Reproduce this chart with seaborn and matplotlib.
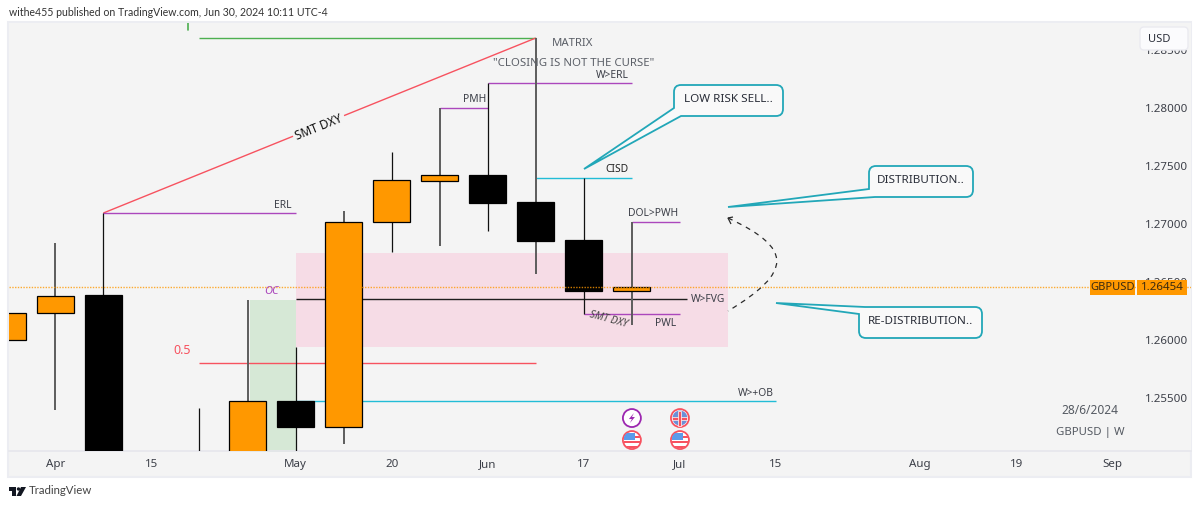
import matplotlib
matplotlib.use('Agg')
import matplotlib.pyplot as plt
import pandas as pd
import seaborn as sns
from matplotlib.patches import Circle, PathPatch, Polygon, Rectangle
from matplotlib.path import Path
from matplotlib.transforms import Affine2D, IdentityTransform

# weekly candles, week 0 is the Apr bar, weeks 2-5 run off the bottom of the view
weeks = [-1, 0, 1, 2, 3, 4, 5, 6, 7, 8, 9, 10, 11, 12]
opens = [1.26000, 1.26233, 1.26388, 1.24450, 1.24950, 1.24900, 1.25473, 1.25249, 1.27018, 1.27372, 1.27424, 1.27191, 1.26863, 1.26423]
closes = [1.26233, 1.26380, 1.24800, 1.23950, 1.24900, 1.25473, 1.25249, 1.27018, 1.27381, 1.27424, 1.27182, 1.26854, 1.26423, 1.26454]
highs = [1.26233, 1.26837, 1.27096, 1.24700, 1.25413, 1.26345, 1.25939, 1.27113, 1.27623, 1.28003, 1.28218, 1.28607, 1.27398, 1.27018]
lows = [1.26000, 1.25395, 1.24500, 1.23500, 1.24800, 1.24600, 1.24800, 1.25102, 1.26759, 1.26811, 1.26941, 1.26570, 1.26224, 1.26129]

# drawn levels
level_names = ['top', 'smt', 'erl', 'pmh', 'werl', 'cisd', 'dol', 'pwl', 'fvg', 'half', 'ob']
level_x0 = [3, 1, 1, 8, 9, 10, 12, 11, 5, 3, 5]
level_x1 = [10, 10, 5, 9, 12, 12, 13, 13, 13.15, 10, 15]
level_p0 = [1.28607, 1.27096, 1.27096, 1.28003, 1.28218, 1.27398, 1.27018, 1.26224, 1.26354, 1.25798, 1.25471]
level_p1 = [1.28607, 1.28607, 1.27096, 1.28003, 1.28218, 1.27398, 1.27018, 1.26224, 1.26354, 1.25798, 1.25471]

last_price = 1.26454
price_ticks = [1.255, 1.26, 1.265, 1.27, 1.275, 1.28, 1.285]
price_labels = ['1.25500', '1.26000', '1.26500', '1.27000', '1.27500', '1.28000', '1.28500']
date_ticks = [0, 2, 5, 7, 9, 11, 13, 15, 18, 20, 22]
date_labels = ['Apr', '15', 'May', '20', 'Jun', '17', 'Jul', '15', 'Aug', '19', 'Sep']
month_labels = ['Apr', 'May', 'Jun', 'Jul', 'Aug', 'Sep']

event_weeks = [12, 12, 13, 13]
event_prices = [1.25326, 1.25136, 1.25326, 1.25136]
event_kinds = ['fed', 'us', 'uk', 'us']

PURPLE = '#ab47bc'
RED = '#f7525f'
CYAN = '#22bcd6'
TEAL = '#22a7b8'
ORANGE = '#ff9800'
BG = '#f4f4f4'
TXT = '#3c3f48'
level_colors = dict(zip(level_names, ['#4caf50', RED, PURPLE, PURPLE, PURPLE, CYAN, PURPLE, PURPLE, '#1e1e1e', RED, CYAN]))

sns.set_theme(style='white')
plt.rcParams['font.family'] = ['Noto Sans', 'DejaVu Sans']

W, H = 1200, 507
fig = plt.figure(figsize=(12, 5.07), dpi=100, facecolor='white')
px = Affine2D().scale(1, -1).translate(0, H)  # reference pixels, y down

L, R, T, B = 9, 1191, 23, 451
ax = fig.add_axes([L / W, 1 - B / H, (R - L) / W, (B - T) / H], facecolor=BG)
fig.add_artist(Rectangle((8, 22), 1183, 455, transform=px, fc=BG, ec='#ecedf2', lw=1.5, zorder=-5))

# zones
ax.fill_between([5, 14], 1.25943, 1.26751, color='#f6dce6', lw=0, zorder=1)
ax.fill_between([4.05, 5], 1.2400, 1.26345, color='#d6e8d6', lw=0, zorder=1)

# levels
rows = []
for n, a, b, p, q in zip(level_names, level_x0, level_x1, level_p0, level_p1):
    rows += [dict(name=n, week=a, price=p), dict(name=n, week=b, price=q)]
levels = pd.DataFrame(rows)
sns.lineplot(data=levels, x='week', y='price', hue='name', palette=level_colors, estimator=None,
             sort=False, legend=False, lw=1.0, solid_capstyle='butt', zorder=2, ax=ax)
ax.plot([2.77, 2.77], [1.2874, 1.2868], color='#4caf50', lw=1.2, zorder=2)

# candles, wicks on even weeks come out softer and wider in the reference
candles = pd.DataFrame(dict(week=weeks, open=opens, close=closes, high=highs, low=lows))
wicks = candles.melt(id_vars='week', value_vars=['high', 'low'], value_name='price')
even = wicks['week'] % 2 == 0
sns.lineplot(data=wicks[~even], x='week', y='price', units='week', estimator=None, color='#111111',
             lw=0.9, solid_capstyle='butt', zorder=3, ax=ax)
sns.lineplot(data=wicks[even], x='week', y='price', units='week', estimator=None, color='#5c5c5c',
             lw=1.4, solid_capstyle='butt', zorder=3, ax=ax)
up = candles['close'] >= candles['open']
body_bottom = candles[['open', 'close']].min(axis=1)
body_height = (candles['close'] - candles['open']).abs()
ax.bar(candles['week'], body_height, bottom=body_bottom, width=0.77,
       color=[ORANGE if u else 'black' for u in up], edgecolor='black', lw=0.9, zorder=4)

ax.axhline(last_price, color=ORANGE, lw=1.0, ls=(0, (1, 1)), alpha=0.8, zorder=5)

x0, dx = 55.3, 48.05
ax.set_xlim((L - x0) / dx, (R - x0) / dx)
ax.set_ylim(1.28 - (B - 108.3) * 8.633e-5, 1.28 + (108.3 - T) * 8.633e-5)
ax.set_xlabel('')
ax.set_ylabel('')
ax.yaxis.tick_right()
ax.set_yticks(price_ticks, price_labels)
ax.set_xticks(date_ticks, date_labels)
ax.tick_params(axis='y', pad=-33, length=0, labelsize=8.3, labelcolor=TXT)
ax.tick_params(axis='x', pad=6, length=0, labelsize=8.3, labelcolor=TXT)
for lab in ax.get_xticklabels():
    if lab.get_text() in month_labels:
        lab.set_fontweight('semibold')
for lab in ax.get_yticklabels():
    lab.set_ha('left')
sns.despine(ax=ax, left=True, right=True, top=True)
ax.spines['bottom'].set_color('#e6e6ec')
ax.spines['bottom'].set_linewidth(1.2)


def label(x, y, s, size=8.0, color=TXT, **kw):
    kw.setdefault('ha', 'center')
    fig.text(x, y + 1, s, transform=px, fontsize=size, color=color, va='center', zorder=20, **kw)


label(9, 12, 'withe455 published on TradingView.com, Jun 30, 2024 10:11 UTC-4', size=7.6, ha='left', color='#333333', family='Lato')
label(29, 490, 'TradingView', size=8.2, ha='left', color='#444444', family='Lato')
label(573, 42, 'MATRIX', size=8.2, color='#5c6068')
label(574, 63, '"CLOSING IS NOT THE CURSE"', size=8.2, color='#5c6068')
label(612, 74, 'W>ERL', size=7.4)
label(475, 98, 'PMH', size=7.4)
label(283, 204, 'ERL', size=7.4)
label(617, 169, 'CISD', size=7.4, color='#222222')
label(653, 212, 'DOL>PWH', size=7.4)
label(708, 298, 'W>FVG', size=7.4)
label(666, 322, 'PWL', size=7.4)
label(756, 392, 'W>+OB', size=7.4)
label(182, 350, '0.5', size=9, color=RED)
label(271, 290, 'OC', size=8, color=PURPLE, style='italic')
label(608, 319, 'SMT DXY', size=7.4, color='#444444', style='italic', rotation=-15)
label(319, 126, 'SMT DXY', size=8.6, color='#111111', weight='bold', rotation=22,
      bbox=dict(fc=BG, ec='none', pad=2))
label(1090, 410, '28/6/2024', size=8.6, color='#555a62')
label(1090, 431, 'GBPUSD | W', size=8.2, color='#555a62')


def rounded(points):
    # (x, y, r) corners, r>0 rounds the corner
    verts, codes = [], []
    n = len(points)
    for i, (x, y, r) in enumerate(points):
        if r:
            for a, code in [(points[i - 1], Path.LINETO), (None, Path.CURVE3), (points[(i + 1) % n], Path.CURVE3)]:
                if a is None:
                    verts.append((x, y))
                else:
                    d = ((a[0] - x) ** 2 + (a[1] - y) ** 2) ** 0.5
                    verts.append((x + (a[0] - x) * r / d, y + (a[1] - y) * r / d))
                codes.append(code)
        else:
            verts.append((x, y))
            codes.append(Path.LINETO)
    codes[0] = Path.MOVETO
    verts.append(verts[0])
    codes.append(Path.CLOSEPOLY)
    return Path(verts, codes)


def callout(x0_, y0, x1, y1, tip, a, b, text, corner):
    r = 7
    if corner == 'bl':
        pts = [(x0_, y0, r), (x1, y0, r), (x1, y1, r), (a, y1, 0), (tip[0], tip[1], 0), (x0_, b, 0)]
    else:
        pts = [(a, y0, 0), (x1, y0, r), (x1, y1, r), (x0_, y1, r), (x0_, b, 0), (tip[0], tip[1], 0)]
    fig.add_artist(PathPatch(rounded(pts), transform=px, fc='#f9f9f9', ec=TEAL, lw=1.3, zorder=15))
    label((x0_ + x1) / 2, (y0 + y1) / 2 - 2, text, size=8.4, color='#2a2e39')


callout(674, 85, 783, 116, (584, 169), 681, 108, 'LOW RISK SELL..', 'bl')
callout(869, 166, 973, 197, (728, 207), 875, 189, 'DISTRIBUTION..', 'bl')
callout(859, 307, 982, 338, (776, 303), 865, 314, 'RE-DISTRIBUTION..', 'tl')

# dashed path between the two callouts
arc = Path([(728, 218), (793, 248), (793, 272), (728, 311)], [Path.MOVETO, Path.CURVE4, Path.CURVE4, Path.CURVE4])
fig.add_artist(PathPatch(arc, transform=px, fc='none', ec='#2b2b2b', lw=0.9, ls=(0, (4, 4)), zorder=12))
fig.add_artist(PathPatch(Path([(733, 217), (728, 218), (731, 224)]), transform=px, fc='none', ec='#2b2b2b', lw=0.9, zorder=12))

# right hand tags
fig.add_artist(Rectangle((1090, 280), 45, 15, transform=px, fc=ORANGE, ec='none', zorder=14))
fig.add_artist(Rectangle((1137, 280), 50, 15, transform=px, fc=ORANGE, ec='none', zorder=14))
label(1112.5, 287, 'GBPUSD', size=8, color='#3a2a10')
label(1162, 287, f'{last_price:.5f}', size=8.3, color='#3a2a10')
fig.add_artist(PathPatch(rounded([(1140, 27, 4), (1188, 27, 4), (1188, 50, 4), (1140, 50, 4)]), transform=px,
                         fc='#fbfbfd', ec='#eaeaf0', lw=1, zorder=14))
label(1148, 38, 'USD', size=8, ha='left', color='#2a2e39')

# economic event icons
idt = IdentityTransform()
for w, p, kind in zip(event_weeks, event_prices, event_kinds):
    cx, cy = ax.transData.transform((w, p))
    ring = '#9c27b0' if kind == 'fed' else RED
    clip = Circle((cx, cy), 8.5, transform=idt)
    ax.add_patch(Circle((cx, cy), 9, transform=idt, fc='white', ec=ring, lw=1.3, zorder=8, clip_on=False))
    if kind == 'fed':
        bolt = [(cx + 2, cy + 5), (cx - 3, cy - 1), (cx, cy - 1), (cx - 2, cy - 5), (cx + 3, cy + 1), (cx, cy + 1)]
        ax.add_patch(Polygon(bolt, transform=idt, fc='#9c27b0', ec='none', zorder=9, clip_on=False))
    elif kind == 'us':
        ax.add_patch(Rectangle((cx - 8, cy), 11, 7, transform=idt, fc='#5b9bea', ec='none', zorder=9, clip_path=clip))
        ax.add_patch(Rectangle((cx + 3, cy + 2), 5, 2.5, transform=idt, fc=RED, ec='none', zorder=9, clip_path=clip))
        ax.add_patch(Rectangle((cx - 8, cy - 3), 16, 2.5, transform=idt, fc=RED, ec='none', zorder=9, clip_path=clip))
        ax.add_patch(Rectangle((cx - 8, cy - 8), 16, 2.5, transform=idt, fc=RED, ec='none', zorder=9, clip_path=clip))
    else:
        ax.add_patch(Circle((cx, cy), 7.5, transform=idt, fc='#6c8fd6', ec='none', zorder=9))
        ax.add_patch(Rectangle((cx - 7.5, cy - 1.5), 15, 3, transform=idt, fc=RED, ec='white', lw=0.5, zorder=10))
        ax.add_patch(Rectangle((cx - 1.5, cy - 7.5), 3, 15, transform=idt, fc=RED, ec='white', lw=0.5, zorder=10))

# TradingView logo
fig.add_artist(Polygon([(9, 487), (16, 487), (16, 496), (12, 496), (12, 491), (9, 491)], transform=px, fc='#131722', ec='none'))
fig.add_artist(Circle((18.5, 489), 1.7, transform=px, fc='#131722', ec='none'))
fig.add_artist(Polygon([(21, 487), (26, 487), (21, 496), (16.5, 496)], transform=px, fc='#131722', ec='none'))

fig.savefig('out.png', dpi=100)
